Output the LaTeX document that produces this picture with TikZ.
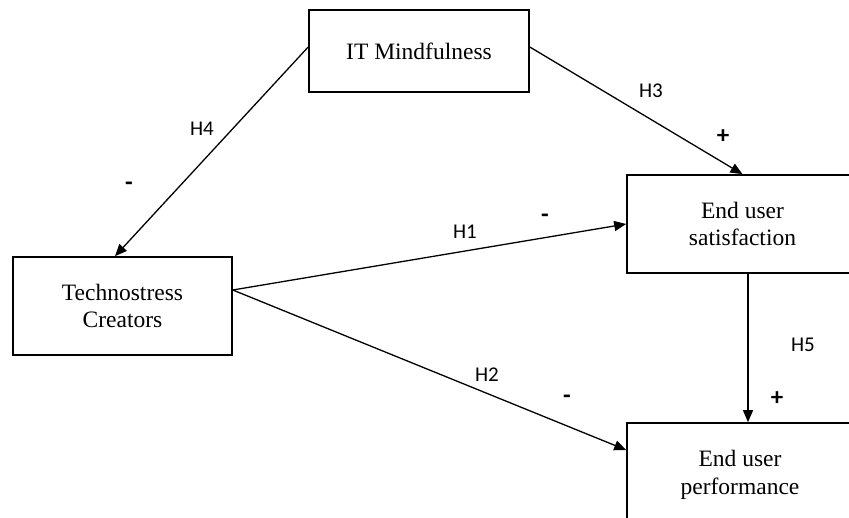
\documentclass[tikz,border=0pt]{standalone}
\usepackage{fontspec}
\usetikzlibrary{arrows.meta,calc}
\newfontfamily\boxfont{Liberation Serif}
\newfontfamily\labfont{Carlito}
\begin{document}
\begin{tikzpicture}[x=1pt,y=-1pt,
  box/.style={draw,line width=1.6pt,rectangle,inner sep=0pt,align=center,
    font=\boxfont\fontsize{23.5}{27.5}\selectfont},
  conn/.style={line width=1.3pt,-{Triangle[length=12pt,width=10pt]}},
  hlab/.style={font=\labfont\fontsize{21}{24}\selectfont,inner sep=0pt},
  sign/.style={font=\labfont\bfseries\fontsize{25}{25}\selectfont,inner sep=0pt}]
\path[use as bounding box] (0,0) rectangle (849,518);
\begin{scope}
\clip (0,0) rectangle (849,518);
\node[box,minimum width=220pt,minimum height=82pt] (itm) at (419,51) {IT Mindfulness};
\node[box,minimum width=219pt,minimum height=98pt] (tech) at (122.5,306) {Technostress\\Creators};
\node[box,minimum width=231pt,minimum height=98pt] (sat) at (742.5,224) {End user\\satisfaction};
\node[box,minimum width=226pt,minimum height=104pt] (perf) at (740,475) {End user\\performance};
\coordinate (h5x) at (748,0);
\draw[conn] ($(itm.west)+(0,-4)$) -- ($(tech.north)+(-7.5,0)$);
\draw[conn] ($(itm.east)+(0,-4)$) -- (sat.north);
\draw[conn] ($(tech.east)+(0,-16)$) -- (sat.west);
\draw[conn] ($(tech.east)+(0,-16)$) -- ($(perf.west)+(0,-25)$);
\draw[conn] (sat.south -| h5x) -- (perf.north -| h5x);
\end{scope}
\node[hlab] (l4) at (202,129) {H4};
\node[sign] (s4) at (129,186) {-};
\node[hlab] (l3) at (651,91) {H3};
\node[sign] (s3) at (723,137) {+};
\node[hlab] (l1) at (465,232) {H1};
\node[sign] (s1) at (545,218) {-};
\node[hlab] (l2) at (487,375) {H2};
\node[sign] (s2) at (567,399) {-};
\node[hlab] (l5) at (803,345) {H5};
\node[sign] (s5) at (777,399) {+};
\end{tikzpicture}
\end{document}
